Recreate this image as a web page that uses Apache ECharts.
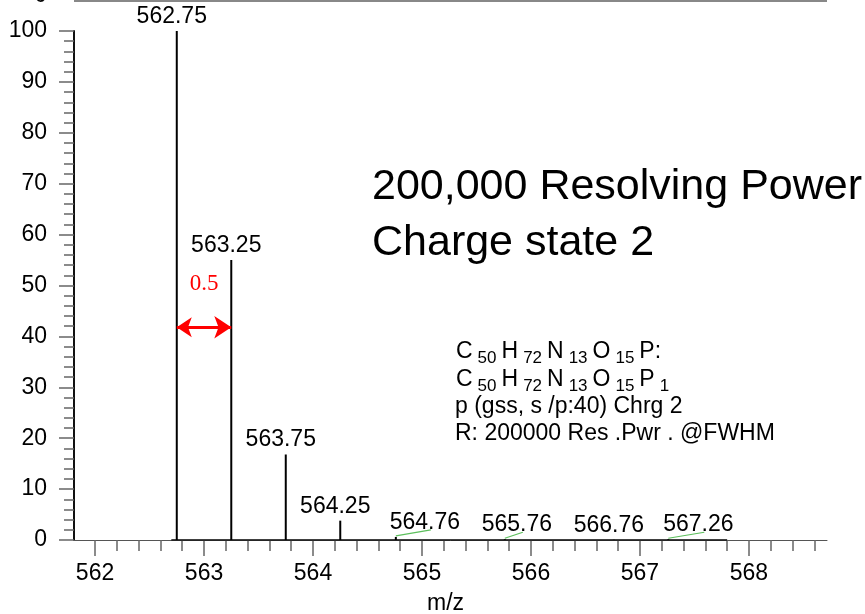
<!DOCTYPE html>
<html>
<head>
<meta charset="utf-8">
<script src="https://cdn.jsdelivr.net/npm/echarts@6/dist/echarts.min.js"></script>
<style>
  html, body { margin: 0; padding: 0; background: #fff; }
  #chart { width: 865px; height: 614px; }
</style>
</head>
<body>
<div id="chart"></div>
<script>
// Isotope peaks of the doubly charged ion (m/z, relative abundance %)
const peakMz = [562.75, 563.25, 563.75, 564.25, 564.76, 565.76, 566.76, 567.26];
const peakIntensity = [100, 55.0, 16.8, 3.8, 0.6, 0.15, 0.05, 0.15];
const peakLabels = ['562.75', '563.25', '563.75', '564.25', '564.76', '565.76', '566.76', '567.26'];

// Extent of the flat profile trace along the baseline
const profileRange = [562.7, 567.8];

// Axis ticks
const xMajorTicks = [562, 563, 564, 565, 566, 567, 568];
const xMinorTicks = [562.2, 562.4, 562.6, 562.8, 563.2, 563.4, 563.6, 563.8,
  564.2, 564.4, 564.6, 564.8, 565.2, 565.4, 565.6, 565.8, 566.2, 566.4, 566.6, 566.8,
  567.2, 567.4, 567.6, 567.8, 568.2, 568.4, 568.6];
const yTicks = [0, 10, 20, 30, 40, 50, 60, 70, 80, 90, 100];

// Horizontal label displacement (px) used by the labeller to avoid crowding
const labelShift = [-5, -5, -5, -5, 29, 12, -5, 30];

const FONT = '"Liberation Sans", Arial, Helvetica, sans-serif';
const X_MIN = 561.807, X_MAX = 568.716;

const chart = echarts.init(document.getElementById('chart'), null, { renderer: 'canvas' });

const spacing = (peakMz[1] - peakMz[0]).toFixed(1);

// rich-text styles for the elemental formula (subscripted counts)
const formulaRich = {
  n: { fontSize: 23, fontFamily: FONT, color: '#000', lineHeight: 30, verticalAlign: 'middle' },
  s: { fontSize: 17, fontFamily: FONT, color: '#000', lineHeight: 17, verticalAlign: 'bottom', padding: [0, 5, 0, 5] }
};

const option = {
  animation: false,
  backgroundColor: '#fff',
  grid: { left: 74, right: 38, top: 31, bottom: 74, containLabel: false, outerBoundsMode: 'none' },
  xAxis: [
    {
      type: 'value', min: X_MIN, max: X_MAX,
      name: 'm/z', nameLocation: 'middle', nameGap: 52,
      nameTextStyle: { fontFamily: FONT, fontSize: 23, color: '#000', padding: [0, 10, 0, 0] },
      axisLine: { show: true, onZero: false, lineStyle: { color: '#555', width: 1 } },
      axisTick: { show: true, customValues: xMajorTicks, length: 16, lineStyle: { color: '#666', width: 1.5 } },
      axisLabel: { show: true, customValues: xMajorTicks, margin: 22, fontFamily: FONT, fontSize: 23, color: '#000' },
      splitLine: { show: false }
    },
    {
      type: 'value', min: X_MIN, max: X_MAX, position: 'bottom',
      axisLine: { show: false, onZero: false },
      axisTick: { show: true, customValues: xMinorTicks, length: 11, lineStyle: { color: '#666', width: 1.5 } },
      axisLabel: { show: false },
      splitLine: { show: false }
    }
  ],
  yAxis: {
    type: 'value', min: 0, max: 100, interval: 10,
    axisLine: { show: true, lineStyle: { color: '#111', width: 2 } },
    axisTick: { show: true, length: 15, lineStyle: { color: '#666', width: 1.5 } },
    minorTick: { show: true, splitNumber: 5, length: 10, lineStyle: { color: '#666', width: 1.5 } },
    axisLabel: {
      margin: 27, fontFamily: FONT, fontSize: 23, color: '#000',
      formatter: v => (yTicks.indexOf(v) >= 0 ? String(v) : '')
    },
    splitLine: { show: false }
  },
  series: [
    {
      // profile baseline
      type: 'line', xAxisIndex: 0,
      data: [[profileRange[0], 0], [profileRange[1], 0]],
      symbol: 'none', lineStyle: { color: '#000', width: 1.6 }, z: 3
    },
    {
      // centroided peaks with their m/z labels
      type: 'custom', xAxisIndex: 0, z: 4,
      data: peakMz.map((m, i) => [m, peakIntensity[i]]),
      renderItem: function (params, api) {
        const i = params.dataIndex;
        const top = api.coord([api.value(0), api.value(1)]);
        const base = api.coord([api.value(0), 0]);
        const dx = labelShift[i];
        const gap = 3;
        const children = [
          {
            type: 'line',
            shape: { x1: top[0], y1: base[1], x2: top[0], y2: top[1] },
            style: { stroke: '#000', lineWidth: 2 }
          },
          {
            type: 'text', x: top[0] + dx, y: top[1] - gap,
            style: {
              text: peakLabels[i], font: '23px ' + FONT, fill: '#000',
              align: 'center', verticalAlign: 'bottom'
            }
          }
        ];
        if (dx > 0) {
          children.push({
            type: 'line',
            shape: { x1: top[0], y1: top[1] - 1, x2: top[0] + dx + 6, y2: top[1] - gap - 4 },
            style: { stroke: '#5cbf5c', lineWidth: 1.2 }
          });
        }
        return { type: 'group', children: children };
      }
    },
    {
      // peak spacing marker
      type: 'lines', coordinateSystem: 'cartesian2d', xAxisIndex: 0, z: 5,
      symbol: ['arrow', 'arrow'], symbolSize: [15, 17],
      lineStyle: { color: '#ff0000', width: 3, opacity: 1, curveness: 0 },
      label: {
        show: true, position: 'middle', distance: 32,
        formatter: spacing,
        fontFamily: '"Liberation Serif", "Times New Roman", serif', fontSize: 23, color: '#ff0000'
      },
      data: [{ coords: [[peakMz[0], 41.8], [peakMz[1], 41.8]] }]
    }
  ],
  graphic: [
    // remnant of the panel above
    { type: 'rect', shape: { x: 74, y: 0, width: 753, height: 2 }, style: { fill: '#888' }, silent: true },
    {
      type: 'text', x: 47, y: 7,
      style: { text: '0', font: '23px ' + FONT, fill: '#000', align: 'right', verticalAlign: 'bottom' }
    },
    {
      type: 'text', x: 372, y: 187,
      style: { text: '200,000 Resolving Power', font: '43px ' + FONT, fill: '#000', align: 'left', verticalAlign: 'middle' }
    },
    {
      type: 'text', x: 372, y: 243,
      style: { text: 'Charge state 2', font: '43px ' + FONT, fill: '#000', align: 'left', verticalAlign: 'middle' }
    },
    {
      type: 'text', x: 456, y: 352,
      style: {
        text: '{n|C}{s|50}{n|H}{s|72}{n|N}{s|13}{n|O}{s|15}{n|P:}',
        verticalAlign: 'middle', align: 'left', rich: formulaRich
      }
    },
    {
      type: 'text', x: 456, y: 380,
      style: {
        text: '{n|C}{s|50}{n|H}{s|72}{n|N}{s|13}{n|O}{s|15}{n|P}{s|1}',
        verticalAlign: 'middle', align: 'left', rich: formulaRich
      }
    },
    {
      type: 'text', x: 455, y: 407,
      style: { text: 'p (gss, s /p:40) Chrg 2', font: '23px ' + FONT, fill: '#000', align: 'left', verticalAlign: 'middle' }
    },
    {
      type: 'text', x: 455, y: 434,
      style: { text: 'R: 200000 Res .Pwr . @FWHM', font: '23px ' + FONT, fill: '#000', align: 'left', verticalAlign: 'middle' }
    }
  ]
};

chart.setOption(option);
</script>
</body>
</html>
